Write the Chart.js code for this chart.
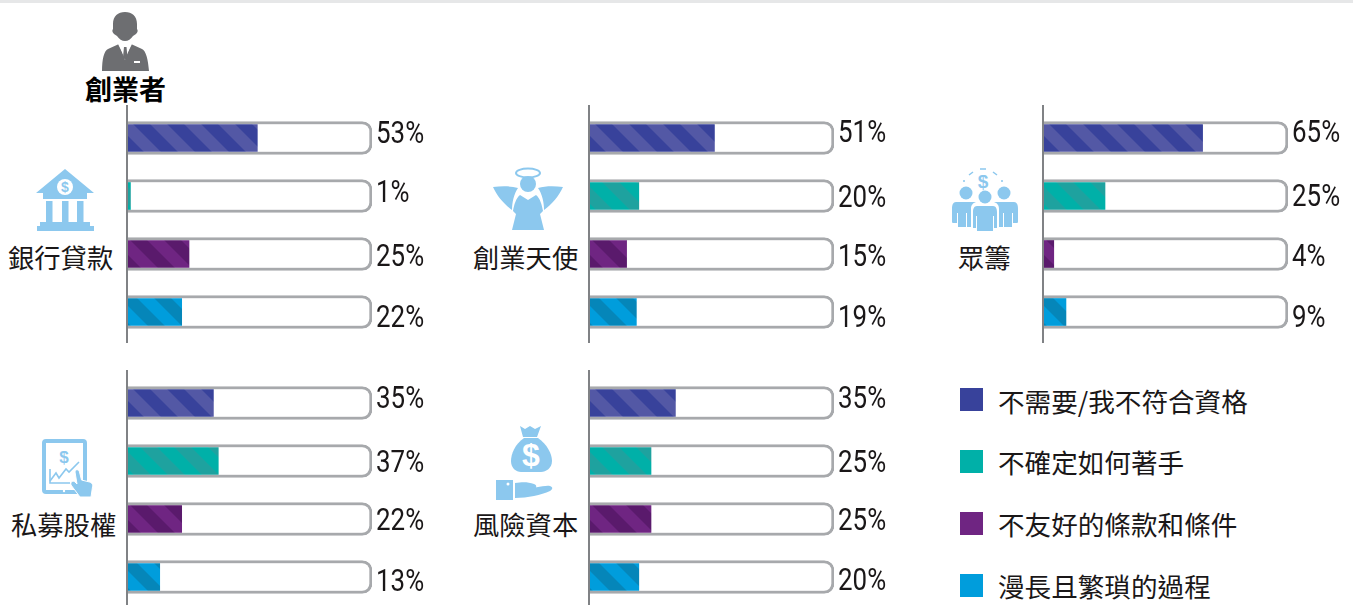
<!DOCTYPE html>
<html lang="zh-Hant"><head><meta charset="utf-8">
<script src="https://cdn.jsdelivr.net/npm/chart.js@4"></script>
<style>
html,body{margin:0;padding:0;background:#fff;width:1353px;height:605px;overflow:hidden;font-family:"Noto Sans CJK TC","Noto Sans",sans-serif;color:#1a1718}
#topbar{position:absolute;left:0;top:0;width:1353px;height:3px;background:#e6e7e8}
canvas{position:absolute}
.t{position:absolute;font-size:26.300px;line-height:32px;white-space:nowrap}
.l{font-size:26.600px}
.k{position:absolute;width:23px;height:23px}
svg{position:absolute;left:0;top:0}
</style></head><body>
<div id="topbar"></div>
<svg width="1353" height="605" viewBox="0 0 1353 605">
 <!-- person -->
 <g fill="#6d6e71">
  <path d="M113 24c0-8 5-12 12-12s12 4 12 12v5c1 1 1 3-1 5l-3 2c-2 3-5 5-8 5s-6-2-8-5l-3-2c-2-2-2-4-1-5z"/>
  <path d="M102 71c0-12 2-20 6-22l11-5 6 16 6-16 11 5c4 2 6 10 7 22z"/>
 </g>
 <path d="M118 44l7 14 7-14-3-1-4 3-4-3z" fill="#fff"/>
 <path d="M124 47h2.500l1 10-2.300 3-2.200-3z" fill="#6d6e71"/>
 <rect x="134" y="61" width="6" height="2" fill="#fff"/>
 <!-- bank -->
 <g fill="#8cc8ee">
  <path d="M65 169l29 24h-7v6H43v-6h-7z"/>
  <rect x="46" y="201" width="6.500" height="21"/><rect x="62" y="201" width="6.500" height="21"/><rect x="77" y="201" width="6.500" height="21"/>
  <rect x="40" y="222" width="50" height="4"/><rect x="37" y="226" width="57" height="5"/>
 </g>
 <circle cx="65" cy="187" r="8" fill="#fff"/>
 <text x="65" y="192" font-size="14" font-weight="700" text-anchor="middle" fill="#8cc8ee" font-family="Liberation Sans">$</text>
 <!-- angel -->
 <g fill="#8cc8ee">
  <ellipse cx="528" cy="173" rx="12" ry="4.500" fill="none" stroke="#8cc8ee" stroke-width="2"/>
  <circle cx="528" cy="184" r="8"/>
  <path d="M493 187c9-1 18-1 25 1-4 6-6 14-6 22-8-6-15-14-19-23z"/>
  <path d="M563 187c-9-1-18-1-25 1 4 6 6 14 6 22 8-6 15-14 19-23z"/>
  <path d="M520 195l8 5 8-5c4 3 6 10 7 16l-3 3 4 16h-32l4-16-3-3c1-6 3-13 7-16z"/>
 </g>
 <!-- crowd -->
 <g fill="#8cc8ee">
  <circle cx="966" cy="193" r="6.500"/><circle cx="1004" cy="193" r="6.500"/><circle cx="985" cy="197" r="6.500"/>
  <path d="M955 202h21c-3 1-5 3-5 7v18h-4v-14h-1v14h-8v-14h-1v10h-4c-1 0-1-1-1-2v-12c0-4 1-7 4-7z"/>
  <path d="M1015 202h-21c3 1 5 3 5 7v18h4v-14h1v14h8v-14h1v10h4c1 0 1-1 1-2v-12c0-4-1-7-4-7z"/>
  <path d="M977 206h16c3 0 4 3 4 6v16h-3v-12h-1v15h-16v-15h-1v12h-3v-16c0-3 1-6 4-6z"/>
 </g>
 <path d="M964 182v-2m5-5l4-3m7-3h6m7 3l4 3m5 5v2" fill="none" stroke="#8cc8ee" stroke-width="1.500"/>
 <text x="983" y="188" font-size="19" font-weight="700" text-anchor="middle" fill="#8cc8ee" font-family="Liberation Sans">$</text>
 <!-- tablet -->
 <rect x="44" y="441" width="41" height="51" rx="2" fill="#fff" stroke="#8cc8ee" stroke-width="4"/>
 <circle cx="64" cy="491" r="1.200" fill="#fff"/>
 <text x="64" y="463" font-size="17" font-weight="700" text-anchor="middle" fill="#8cc8ee" font-family="Liberation Sans">$</text>
 <path d="M50 469v14h20" fill="none" stroke="#8cc8ee" stroke-width="1.600"/>
 <path d="M50 481l6-8 3 5 7-9 3 3 10-10" fill="none" stroke="#8cc8ee" stroke-width="1.600"/>
 <path d="M75 472c0-3 4-3 4.500 0l2 8 8 2c3 1 3.500 3 3 5l-1.500 10H80l-9-12c-1-3 2-5 4-3l2 2z" fill="#8cc8ee" stroke="#fff" stroke-width="1"/>
 <!-- money bag -->
 <g fill="#8cc8ee">
  <path d="M520 426l5 3 5-3 5 3 6-3-4 11h-14z"/>
  <path d="M524 438h14c9 6 14 16 14 23 0 7-6 11-11 11h-20c-5 0-10-4-10-11 0-7 4-17 13-23z"/>
  <rect x="496" y="480" width="17" height="20"/>
  <path d="M515 483c8-1 13-1 19 1 3 1 3 4 0 5h-7c5 0 17-4 23-3 3 1 3 3 0 5-9 4-22 7-35 7z"/>
 </g>
 <text x="531" y="466" font-size="32" font-weight="700" text-anchor="middle" fill="#fff" font-family="Liberation Sans">$</text>
 <circle cx="508" cy="484" r="1.500" fill="#fff"/>
</svg>
<div class="t" style="left:85px;top:73px;font-weight:700;font-size:27px;color:#000">創業者</div>
<div class="t" style="left:8px;top:241px">銀行貸款</div>
<div class="t" style="left:473px;top:241px">創業天使</div>
<div class="t" style="left:958px;top:241px">眾籌</div>
<div class="t" style="left:11px;top:508px">私募股權</div>
<div class="t" style="left:473px;top:508px">風險資本</div>
<div id="legend"></div>
<script>
const categories = ['不需要/我不符合資格','不確定如何著手','不友好的條款和條件','漫長且繁瑣的過程'];
const bankLoan = [53,1,25,22];
const angel = [51,20,15,19];
const crowd = [65,25,4,9];
const privateEquity = [35,37,22,13];
const ventureCapital = [35,25,25,20];
const fullScale = [100,100,100,100];
const baseColors = ['#38429b','#00b0a8','#6f2582','#009ddc'];
const stripeColors = ['#5358a5','#1ea29f','#5a1a6c','#0586b9'];

const panels = [
 {data:bankLoan, left:126, top:100, nudge:[-3,-2,4,7]},
 {data:angel, left:588, top:100, nudge:[-4,3,4,7]},
 {data:crowd, left:1042, top:100, nudge:[-4,2,4,7]},
 {data:privateEquity, left:126, top:365, nudge:[-3,3,3,6]},
 {data:ventureCapital, left:588, top:365, nudge:[-3,3,3,5]}
];
function stripe(base, line){
  const n=34, c=document.createElement('canvas'); c.width=n; c.height=n;
  const g=c.getContext('2d');
  g.fillStyle=base; g.fillRect(0,0,n,n);
  g.fillStyle=line;
  for(const o of [-n,0,n]){
    g.beginPath(); g.moveTo(o,0); g.lineTo(o+n/2,0); g.lineTo(o+n+n/2,n); g.lineTo(o+n,n); g.closePath(); g.fill();
  }
  return document.createElement('canvas').getContext('2d').createPattern(c,'repeat');
}
const patterns = baseColors.map((b,i)=>stripe(b,stripeColors[i]));

const decor = {
  id:'decor',
  afterDatasetsDraw(chart,_a,opts){
    const {ctx,chartArea:a,scales:{x,y}} = chart;
    ctx.save();
    ctx.strokeStyle='#808285'; ctx.lineWidth=2;
    ctx.beginPath(); ctx.moveTo(a.left-1,a.top-4); ctx.lineTo(a.left-1,a.bottom+2); ctx.stroke();
    ctx.fillStyle='#1a1718';
    ctx.font='32px Roboto,"Liberation Sans",sans-serif';
    ctx.textBaseline='middle'; ctx.textAlign='left';
    const squeeze=0.81;
    opts.values.forEach((v,i)=>{
      ctx.save();
      ctx.translate(x.getPixelForValue(100)+4, y.getPixelForValue(i)+opts.nudge[i]);
      ctx.scale(squeeze,1);
      ctx.fillText(v+'%',0,0);
      ctx.restore();
    });
    ctx.restore();
  }
};
panels.forEach(p=>{
  const cv=document.createElement('canvas');
  cv.width=315; cv.height=250;
  cv.style.left=p.left+'px'; cv.style.top=p.top+'px';
  document.body.appendChild(cv);
  new Chart(cv,{
    type:'bar',
    plugins:[decor],
    data:{labels:categories,datasets:[
      {data:p.data,backgroundColor:patterns,barThickness:27,grouped:false,order:1,borderWidth:0},
      {data:fullScale,backgroundColor:'#fff',borderColor:'#a7a9ac',borderWidth:{top:3,right:3,bottom:3,left:0},
       borderSkipped:false,borderRadius:{topRight:10,bottomRight:10,topLeft:0,bottomLeft:0},barThickness:33,grouped:false,order:2}
    ]},
    options:{
      indexAxis:'y',responsive:false,animation:false,events:[],
      layout:{padding:{left:2,right:69,top:9,bottom:9}},
      scales:{
        x:{display:false,min:0,max:100},
        y:{display:false,grid:{display:false}}
      },
      plugins:{legend:{display:false},tooltip:{enabled:false},decor:{values:p.data,nudge:p.nudge}}
    }
  });
});
const legend=document.getElementById('legend');
categories.forEach((c,i)=>{
  const top=388+i*62;
  legend.insertAdjacentHTML('beforeend',
   `<div class="k" style="left:960px;top:${top}px;background:${baseColors[i]}"></div><div class="t l" style="left:998px;top:${top-3-(i>0?1:0)}px">${c}</div>`);
});
</script>
</body></html>
